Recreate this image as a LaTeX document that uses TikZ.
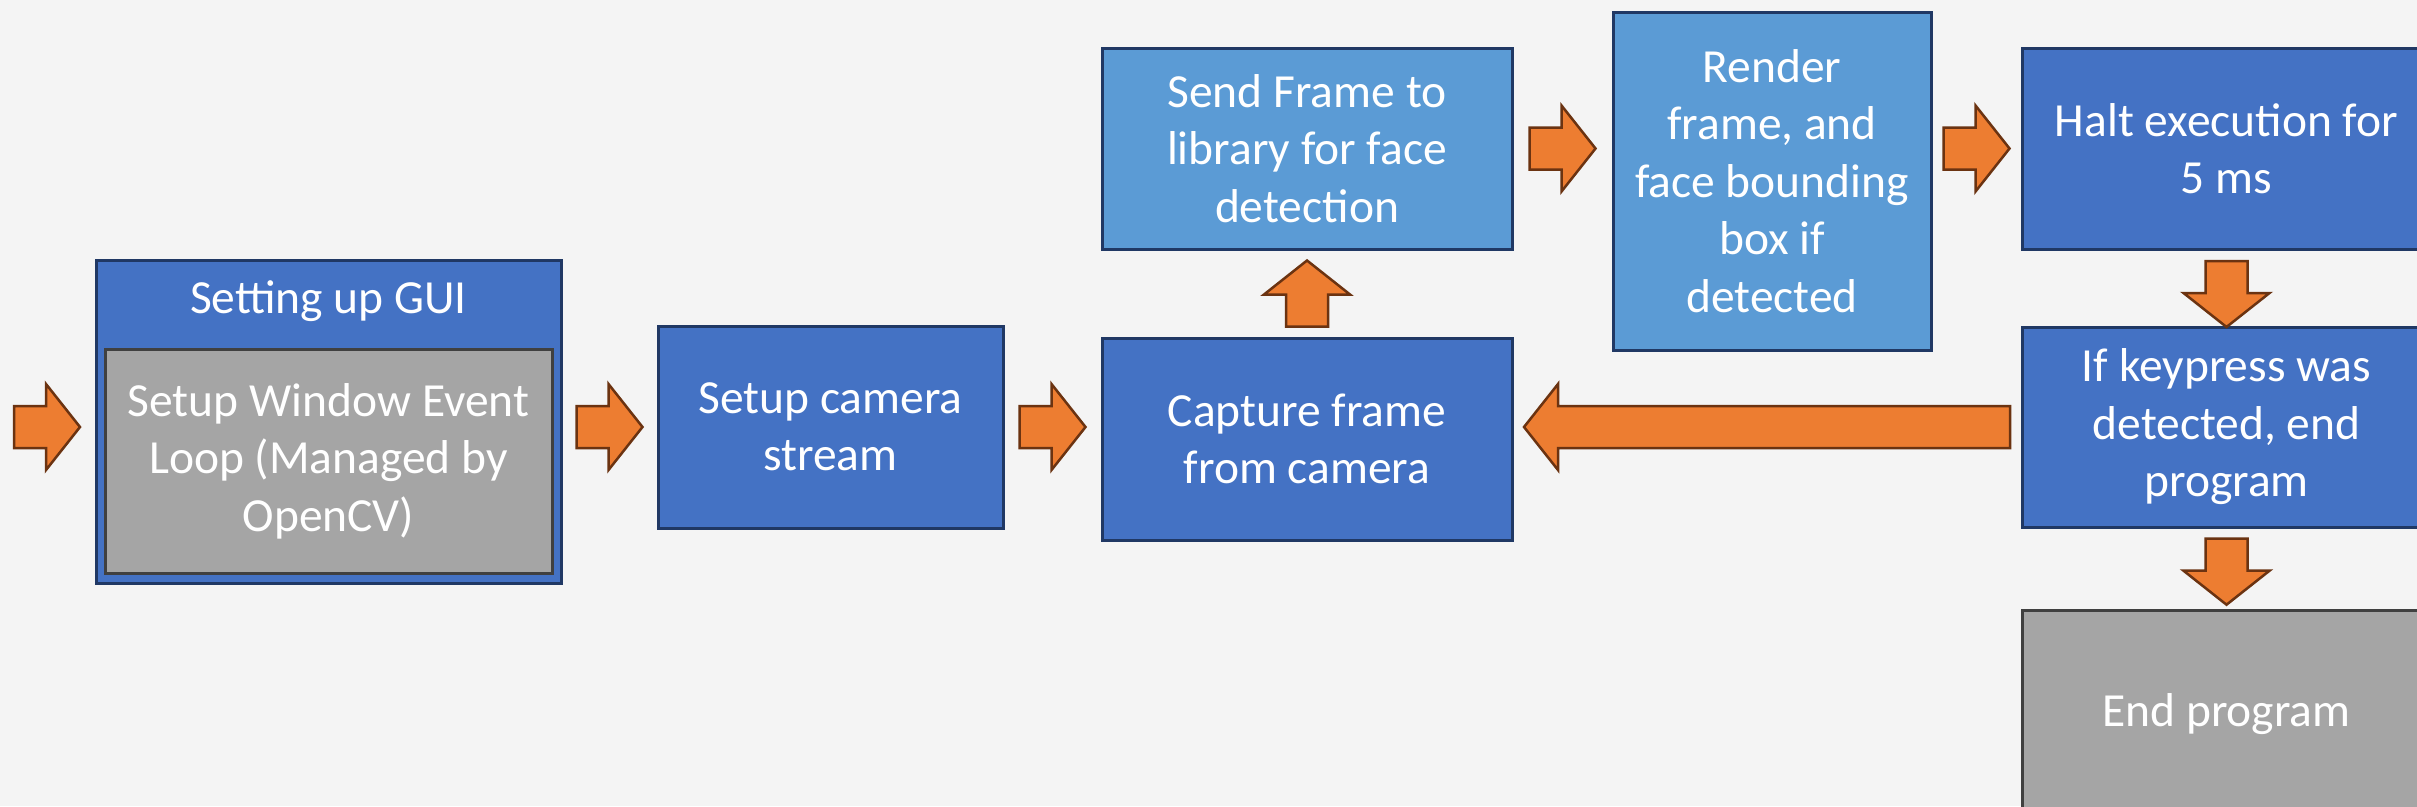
\documentclass[tikz,border=0pt]{standalone}
\usepackage{fontspec}
\setmainfont{Carlito}
\usetikzlibrary{calc}
\definecolor{bg}{HTML}{F4F4F4}
\definecolor{dkblue}{HTML}{4472C4}
\definecolor{ltblue}{HTML}{5B9BD5}
\definecolor{navy}{HTML}{203864}
\definecolor{grey}{HTML}{A5A5A5}
\definecolor{greyline}{HTML}{404040}
\definecolor{orange}{HTML}{ED7D31}
\definecolor{brown}{HTML}{6B3311}
\tikzset{
	box/.style={draw=navy,line width=3pt,fill=dkblue,text=white,align=center,inner sep=0pt},
	lightbox/.style={box,fill=ltblue},
	greybox/.style={box,draw=greyline,fill=grey},
	pics/fatarrow/.style={code={
		\draw[fill=orange,draw=brown,line width=2.5pt,line join=miter]
			(-#1/2,-21)--(#1/2-34,-21)--(#1/2-34,-43)--(#1/2,0)--(#1/2-34,43)--(#1/2-34,21)--(-#1/2,21)--cycle;
	}}
}
\begin{document}
\begin{tikzpicture}[x=1pt,y=-1pt,font=\fontsize{47.5}{57.5}\selectfont]
	\useasboundingbox (0,0) rectangle (2417,806);
	\clip (0,0) rectangle (2417,806);
	\fill[bg] (0,0) rectangle (2417,806);
	% boxes
	\node[box,minimum width=465pt,minimum height=323pt] (gui) at (328.5,421.5) {};
	\node[text=white,anchor=base] (guititle) at (328.5,313) {Setting up GUI};
	\node[greybox,minimum width=447pt,minimum height=224pt] (loop) at (328.5,461) {Setup Window Event\\Loop (Managed by\\OpenCV)};
	\node[box,minimum width=345pt,minimum height=202pt] (cam) at (830.5,427) {Setup camera\\stream};
	\node[box,minimum width=410pt,minimum height=202pt] (capture) at (1307,439) {Capture frame\\from camera};
	\node[lightbox,minimum width=410pt,minimum height=201pt] (send) at (1307,148.5) {Send Frame to\\library for face\\detection};
	\node[lightbox,minimum width=318pt,minimum height=338pt] (render) at (1772,181) {Render\\frame, and\\face bounding\\box if\\detected};
	\node[box,minimum width=409pt,minimum height=201pt] (halt) at (2226.5,148.5) {Halt execution for\\5 ms};
	\node[box,minimum width=409pt,minimum height=200pt] (keys) at (2226.5,427) {If keypress was\\detected, end\\program};
	\node[greybox,minimum width=409pt,minimum height=208pt] (end) at (2226.5,714) {End program};
	% arrows
	\pic at ($(gui.west |- cam.west)+(-47.5,0)$) {fatarrow=66};
	\pic at ($(cam.west)!.5!(cam.west -| gui.east)$) {fatarrow=66};
	\pic at ($(cam.east)!.5!(cam.east -| capture.west)$) {fatarrow=66};
	\pic[rotate=90] at ($(capture.north)!.5!(send.south)$) {fatarrow=66};
	\pic at ($(send.east)!.5!(send.east -| render.west)$) {fatarrow=66};
	\pic at ($(halt.west)!.5!(halt.west -| render.east)$) {fatarrow=66};
	\pic[rotate=-90] at ($(halt.south)!.58!(keys.north)$) {fatarrow=66};
	\pic[rotate=180] at ($(keys.west)!.5!(keys.west -| capture.east)$) {fatarrow=486};
	\pic[rotate=-90] at ($(keys.south)!.54!(end.north)$) {fatarrow=66};
\end{tikzpicture}
\end{document}
